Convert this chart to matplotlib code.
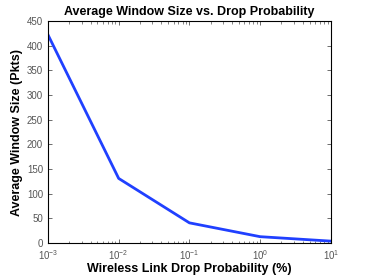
import numpy as np
import matplotlib
matplotlib.use("Agg")
import matplotlib.pyplot as plt
from matplotlib.ticker import LogLocator, LogFormatterMathtext

plt.rcParams["font.family"] = ["Liberation Sans", "DejaVu Sans"]
plt.rcParams["mathtext.fontset"] = "custom"
plt.rcParams["mathtext.rm"] = "Liberation Sans"
plt.rcParams["mathtext.it"] = "Liberation Sans"

# --- data ---
drop_prob = [1e-3, 1e-2, 1e-1, 1e0, 1e1]
avg_window = [422, 131, 41, 13, 4]

fig = plt.figure(figsize=(3.66, 2.75), dpi=100)
ax = fig.add_axes([0.131, 0.116, 0.773, 0.808])

ax.plot(drop_prob, avg_window, color="#2040ff", lw=2)
ax.set_xscale("log")
ax.set_xlim(1e-3, 1e1)
ax.set_ylim(0, 450)
ax.set_yticks(range(0, 451, 50))
ax.xaxis.set_major_locator(LogLocator(base=10, numticks=10))
ax.xaxis.set_major_formatter(LogFormatterMathtext())
ax.xaxis.set_minor_locator(LogLocator(base=10, subs=np.arange(2, 10), numticks=20))

ax.tick_params(which="both", direction="in", top=True, right=True, labelsize=7,
               colors="#555555")
ax.tick_params(which="major", length=3, width=0.6)
ax.tick_params(which="minor", length=1.8, width=0.5)
for s in ax.spines.values():
    s.set_linewidth(0.8)

ax.set_title("Average Window Size vs. Drop Probability", fontsize=9, fontweight="bold", pad=4)
ax.set_xlabel("Wireless Link Drop Probability (%)", fontsize=9, fontweight="bold", labelpad=1)
ax.set_ylabel("Average Window Size (Pkts)", fontsize=9, fontweight="bold", labelpad=3)

plt.savefig("out.png", dpi=100)
